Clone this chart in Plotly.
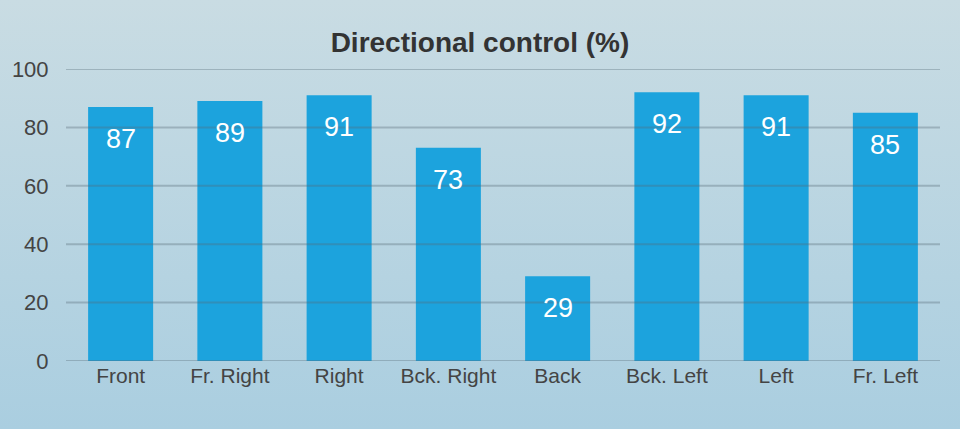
import base64
import plotly.graph_objects as go

# chart data
directions = ["Front", "Fr. Right", "Right", "Bck. Right", "Back", "Bck. Left", "Left", "Fr. Left"]
control_pct = [87, 89, 91, 73, 29, 92, 91, 85]
y_ticks = [0, 20, 40, 60, 80, 100]

W, H = 960, 429
ML, MR, MT, MB = 66, 20, 69, 68
font = "Liberation Sans, Arial, sans-serif"

# soft vertical gradient for the page background
svg = ('<svg xmlns="http://www.w3.org/2000/svg" width="960" height="429">'
       '<defs><linearGradient id="g" x1="0" y1="0" x2="0" y2="1">'
       '<stop offset="0" stop-color="#c9dce3"/><stop offset="1" stop-color="#aacee0"/>'
       '</linearGradient></defs><rect width="960" height="429" fill="url(#g)"/></svg>')
bg_uri = "data:image/svg+xml;base64," + base64.b64encode(svg.encode()).decode()

pw = W - ML - MR
ph = H - MT - MB

fig = go.Figure()
fig.add_trace(go.Bar(x=directions, y=control_pct, marker_color="#1ca3dd",
                     marker_line_width=0, hoverinfo="x+y"))

# value labels inside the bars, near the top
for d, v in zip(directions, control_pct):
    fig.add_annotation(x=d, y=v, text=str(v), showarrow=False, yanchor="top",
                       yshift=-15, font=dict(family=font, size=27, color="white"))

# gridlines drawn on top of the bars
for t in y_ticks:
    fig.add_shape(type="line", xref="paper", yref="y", x0=0, x1=1, y0=t, y1=t,
                  layer="above", line=dict(color="rgba(85,105,118,0.35)", width=2))

fig.add_layout_image(source=bg_uri, xref="paper", yref="paper",
                     x=-ML / pw, y=1 + MT / ph, sizex=W / pw, sizey=H / ph,
                     xanchor="left", yanchor="top", sizing="stretch", layer="below")

fig.update_layout(
    width=W, height=H,
    margin=dict(l=ML, r=MR, t=MT, b=MB),
    paper_bgcolor="#bad5e1",
    plot_bgcolor="rgba(0,0,0,0)",
    bargap=0.405,
    showlegend=False,
    title=dict(text="<b>Directional control (%)</b>", x=0.5, xanchor="center",
               y=1 - 42 / H, yanchor="middle",
               font=dict(family=font, size=28, color="#333333")),
    font=dict(family=font, color="#444444"),
)
fig.update_xaxes(showgrid=False, zeroline=False, showline=False,
                 tickfont=dict(size=21, color="#444444"), ticks="")
fig.update_yaxes(range=[0, 100], tickvals=y_ticks, showgrid=False, zeroline=False,
                 showline=False, tickfont=dict(size=22, color="#444444"),
                 ticks="outside", ticklen=12, tickcolor="rgba(0,0,0,0)")

fig.write_html("out.html", config={"displayModeBar": False},
               post_script="document.body.style.margin='0';")
